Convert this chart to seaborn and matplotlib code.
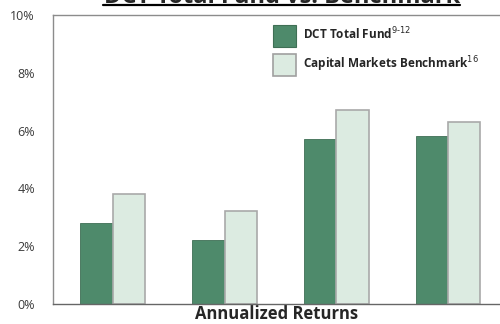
import matplotlib
matplotlib.use("Agg")
import matplotlib.pyplot as plt
import seaborn as sns
import pandas as pd
from matplotlib.patches import Patch

periods = ["1 Year", "3 Years", "5 Years", "10 Years"]
fund = [2.8, 2.2, 5.7, 5.8]
benchmark = [3.8, 3.2, 6.7, 6.3]
series_names = ["DCT Total Fund$^{9\\text{-}12}$", "Capital Markets Benchmark$^{16}$"]
y_ticks = [0, 2, 4, 6, 8, 10]
y_tick_labels = ["0%", "2%", "4%", "6%", "8%", "10%"]

sns.set_style("white")
plt.rcParams["font.family"] = ["Open Sans", "DejaVu Sans"]

df = pd.DataFrame({
    "period": periods * 2,
    "value": fund + benchmark,
    "series": [series_names[0]] * 4 + [series_names[1]] * 4,
})

dark = "#4e8a6b"
light = "#dcebe1"

fig = plt.figure(figsize=(5.0, 3.24), dpi=100)
ax = fig.add_axes([0.106, 0.062, 0.894, 0.892])

sns.barplot(data=df, x="period", y="value", hue="series",
            palette=[dark, light], width=0.58, ax=ax, legend=False,
            saturation=1)
for i, bar in enumerate(ax.patches):
    if i >= 4:
        bar.set_edgecolor("#a9a9a9")
        bar.set_linewidth(1.2)
    else:
        bar.set_edgecolor("#3f6f55")
        bar.set_linewidth(0.6)

ax.set_ylim(0, 10)
ax.set_xlim(-0.535, 3.465)
ax.set_yticks(y_ticks)
ax.set_yticklabels(y_tick_labels, fontsize=9, color="#3a3a3a")
ax.tick_params(axis="y", length=3, width=0.8, color="#888888", pad=10)
ax.set_xticks([])
ax.set_xlabel("Annualized Returns", fontsize=12, fontweight="bold", labelpad=1)
ax.set_ylabel("")

for side in ["left", "top"]:
    ax.spines[side].set_visible(True)
    ax.spines[side].set_color("#8c8c8c")
    ax.spines[side].set_linewidth(1.0)
ax.spines["bottom"].set_color("#666666")
ax.spines["bottom"].set_linewidth(1.0)
ax.spines["right"].set_visible(False)

handles = [Patch(facecolor=dark, edgecolor="#3f6f55", linewidth=0.8),
           Patch(facecolor=light, edgecolor="#a0a0a0", linewidth=1.2)]
leg = ax.legend(handles, series_names, loc="upper left",
                bbox_to_anchor=(0.477, 0.99), frameon=False,
                handlelength=1.9, handleheight=2.5, handletextpad=0.6,
                labelspacing=0.6, borderaxespad=0.2,
                prop={"size": 8.5, "weight": "bold"})

title = fig.text(0.564, 0.992, "DCT Total Fund vs. Benchmark", ha="center",
                 va="baseline", fontsize=17, fontweight="bold")
fig.add_artist(plt.Line2D([0.206, 0.92], [0.985, 0.985], color="black",
                          linewidth=1.6, transform=fig.transFigure))

fig.savefig("out.png", dpi=100)
